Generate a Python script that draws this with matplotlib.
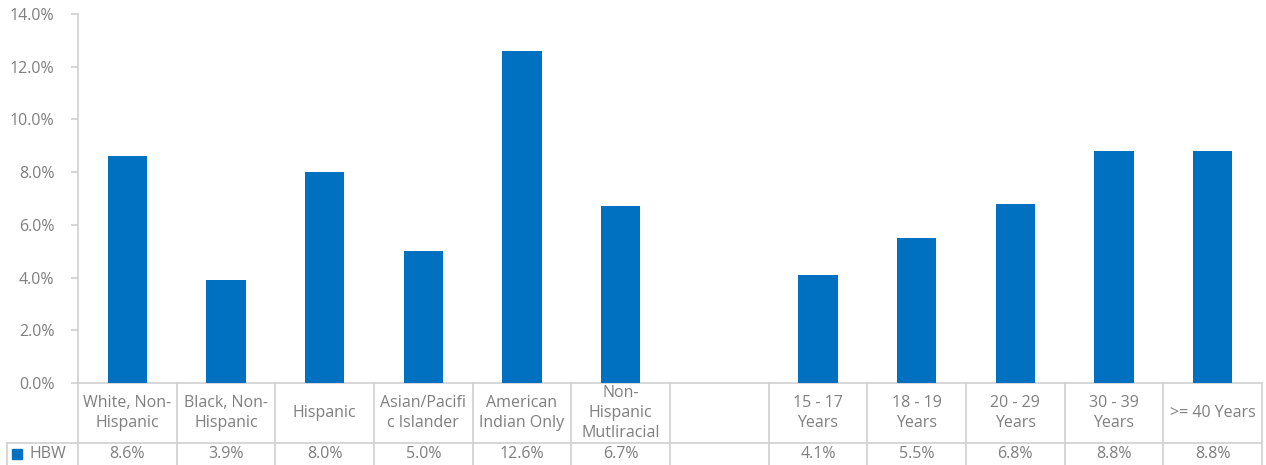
import numpy as np
import matplotlib.pyplot as plt
from matplotlib.transforms import blended_transform_factory

categories = ["White, Non-\nHispanic", "Black, Non-\nHispanic", "Hispanic",
              "Asian/Pacifi\nc Islander", "American\nIndian Only",
              "Non-\nHispanic\nMutliracial", "",
              "15 - 17\nYears", "18 - 19\nYears", "20 - 29\nYears",
              "30 - 39\nYears", ">= 40 Years"]
hbw = [8.6, 3.9, 8.0, 5.0, 12.6, 6.7, np.nan, 4.1, 5.5, 6.8, 8.8, 8.8]
series_name = "HBW"

bar_color = "#0070C0"
text_color = "#7F7F7F"
line_color = "#D0D0D0"

plt.rcParams['font.family'] = ['Open Sans', 'DejaVu Sans']
fs = 11.5

W, H = 1266, 465
fig = plt.figure(figsize=(W / 100, H / 100), dpi=100)
ax_left, ax_right, ax_top, ax_bot = 78, 1262, 14, 383
ax = fig.add_axes([ax_left / W, 1 - ax_bot / H,
                   (ax_right - ax_left) / W, (ax_bot - ax_top) / H])

n = len(categories)
x = np.arange(n)
vals = np.array(hbw)
mask = ~np.isnan(vals)
ax.bar(x[mask], vals[mask], width=0.4, color=bar_color, zorder=3)

ax.set_xlim(-0.5, n - 0.5)
ax.set_ylim(0, 14)
ax.set_yticks(np.arange(0, 14.1, 2))
ax.set_yticklabels([f"{v:.1f}%" for v in np.arange(0, 14.1, 2)])
ax.tick_params(axis='y', colors=line_color, labelcolor=text_color,
               labelsize=fs, length=5, width=1.2, pad=12)
ax.tick_params(axis='x', bottom=False, labelbottom=False)
for s in ['top', 'right']:
    ax.spines[s].set_visible(False)
ax.spines['left'].set_color(line_color)
ax.spines['left'].set_linewidth(1.2)
ax.spines['bottom'].set_color(line_color)
ax.spines['bottom'].set_linewidth(1.2)

# data table below the axis
px = 1.0 / (ax_bot - ax_top)
row1_bot = -(443 - ax_bot) * px
row2_bot = -(470 - ax_bot) * px
tr = blended_transform_factory(ax.transData, ax.transAxes)
lk = dict(color=line_color, lw=1.2, clip_on=False, transform=tr)
col_w = (ax_right - ax_left) / n
leg_left = -0.5 - (ax_left - 7) / col_w

for i in range(n + 1):
    ax.plot([i - 0.5, i - 0.5], [0, row2_bot], **lk)
ax.plot([leg_left, n - 0.5], [row1_bot, row1_bot], **lk)
ax.plot([leg_left, leg_left], [row1_bot, row2_bot], **lk)

row2_mid = (row1_bot + row2_bot) / 2 + 3 * px
for i, (lab, v) in enumerate(zip(categories, hbw)):
    ax.text(i, row1_bot / 2, lab, transform=tr, ha='center', va='center',
            color=text_color, fontsize=fs, linespacing=1.3, clip_on=False)
    if not np.isnan(v):
        ax.text(i, row2_mid, f"{v:.1f}%", transform=tr, ha='center',
                va='center', color=text_color, fontsize=fs, clip_on=False)

ax.plot([leg_left + 10 / col_w], [row2_mid], marker='s', ms=6.5,
        color=bar_color, transform=tr, clip_on=False)
ax.text(leg_left + 22 / col_w, row2_mid, series_name, transform=tr,
        ha='left', va='center', color=text_color, fontsize=fs, clip_on=False)

fig.savefig("out.png", dpi=100)
